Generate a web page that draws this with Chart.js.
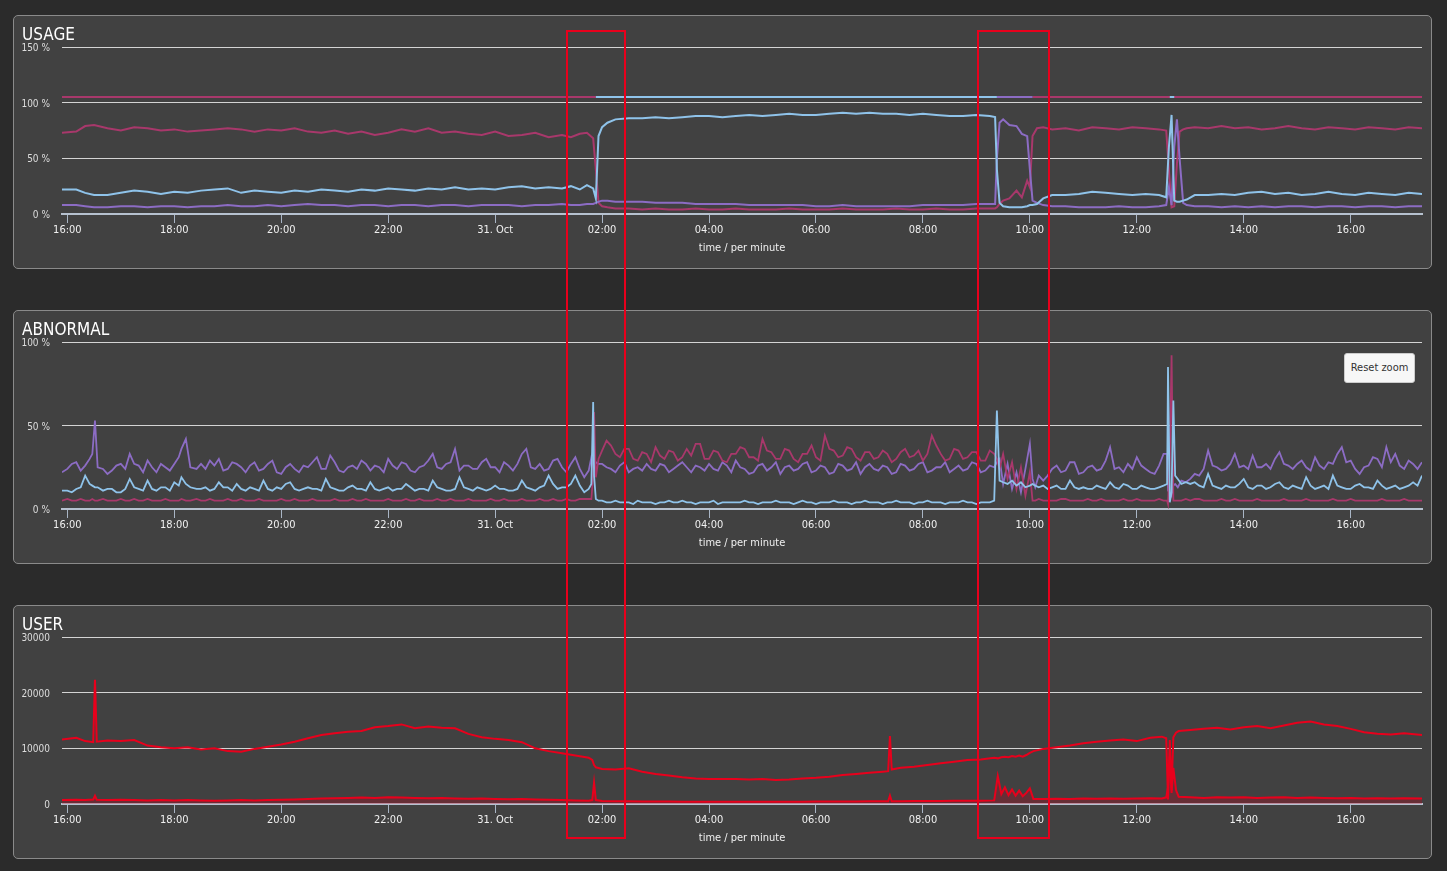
<!DOCTYPE html>
<html>
<head>
<meta charset="utf-8">
<title>Usage / Abnormal / User</title>
<script src="https://cdn.jsdelivr.net/npm/chart.js@4.4.1/dist/chart.umd.min.js"></script>
<style>
  html, body { margin: 0; padding: 0; width: 1447px; height: 871px; overflow: hidden; background: #2b2b2b;
    font-family: 'DejaVu Sans Condensed', 'Liberation Sans Narrow', sans-serif; }
  .panel { position: absolute; left: 13px; width: 1419px; height: 254px; box-sizing: border-box;
    border: 1px solid #8a8a8a; border-radius: 5px; background: #414141; }
  .panel .box { position: absolute; left: 0; top: 0; right: 0; bottom: 0; }
  .panel h2 { position: absolute; left: 8px; top: 8px; margin: 0; font-weight: normal; font-size: 17px;
    line-height: 20px; color: #fff; z-index: 2; }
  .reset { position: absolute; left: 1344px; top: 353px; width: 71px; height: 30px; box-sizing: border-box;
    background: #f7f7f7; border: 1px solid #cccccc; border-radius: 3px; color: #333; font-size: 11px;
    line-height: 28px; text-align: center; z-index: 3; }
  .mark { position: absolute; top: 30px; height: 809px; box-sizing: border-box; border: 2px solid #e8001c;
    z-index: 5; pointer-events: none; }
</style>
</head>
<body>

<div class="panel" style="top:15px"><h2>USAGE</h2><div class="box"><canvas id="usage"></canvas></div></div>
<div class="panel" style="top:310px"><h2>ABNORMAL</h2><div class="box"><canvas id="abnormal"></canvas></div></div>
<div class="panel" style="top:605px"><h2>USER</h2><div class="box"><canvas id="user"></canvas></div></div>
<div class="reset">Reset zoom</div>
<div class="mark" style="left:566px; width:60px"></div>
<div class="mark" style="left:977px; width:73px"></div>

<script>
// x values are minutes after 16:00 on 30 Oct
const tickMinutes = [0, 120, 240, 360, 480, 600, 720, 840, 960, 1080, 1200, 1320, 1440];
const tickLabels = ['16:00', '18:00', '20:00', '22:00', '31. Oct', '02:00', '04:00', '06:00', '08:00', '10:00', '12:00', '14:00', '16:00'];

// USAGE (%)
const usageTimes = [-6, 10, 20, 30, 45, 60, 75, 90, 105, 120, 135, 150, 165, 180, 195, 210, 225, 240, 255, 270,
  285, 300, 315, 330, 345, 360, 375, 390, 405, 420, 435, 450, 465, 480, 495, 510, 525, 540, 555,
  565, 575, 583, 590, 593, 596, 600, 606, 615,
  630, 645, 660, 675, 690, 705, 720, 735, 750, 765, 780, 795, 810, 825, 840, 855, 870, 885, 900, 915,
  930, 945, 960, 975, 990, 1005, 1020, 1035,
  1041, 1043, 1046, 1050, 1057, 1065, 1071, 1077, 1080, 1083, 1088, 1095, 1105,
  1120, 1135, 1150, 1165, 1180, 1195, 1210, 1225,
  1233, 1236, 1239, 1242, 1245, 1248, 1252, 1256,
  1265, 1280, 1295, 1310, 1325, 1340, 1355, 1370, 1385, 1400, 1415, 1430, 1445, 1460, 1475, 1490, 1505, 1520];
const usageMagenta = [73, 74, 79, 80, 77, 75, 78, 77, 75, 76, 74, 75, 76, 77, 76, 74, 76, 75, 77, 74,
  73, 75, 72, 74, 71, 73, 76, 74, 77, 73, 74, 72, 71, 74, 70, 71, 73, 69, 71,
  69, 72, 73, 68, 40, 10, 7, 6, 5,
  5, 4, 5, 4, 4, 5, 4, 4, 5, 4, 4, 4, 5, 4, 4, 4, 5, 4, 4, 4,
  5, 4, 4, 5, 4, 4, 5, 5,
  5, 6, 9, 12, 14, 21, 15, 30, 24, 70, 77, 78, 76,
  77, 75, 78, 77, 76, 78, 77, 76,
  75, 40, 6, 7, 45, 74, 76, 77,
  78, 77, 79, 77, 78, 76, 77, 79, 77, 76, 78, 77, 76, 78, 77, 76, 78, 77];
const usageBlue = [22, 22, 19, 17, 17, 19, 21, 20, 18, 20, 19, 21, 22, 23, 19, 21, 20, 19, 21, 20,
  22, 21, 20, 22, 21, 23, 22, 21, 23, 22, 24, 22, 23, 22, 24, 25, 23, 24, 23,
  25, 22, 26, 23, 14, 70, 78, 82, 85,
  86, 86, 87, 86, 87, 88, 88, 87, 88, 89, 88, 89, 90, 89, 89, 90, 91, 90, 91, 90,
  90, 89, 90, 89, 88, 88, 89, 88,
  87, 40, 10, 7, 6, 6, 6, 7, 8, 8, 9, 14, 17,
  17, 18, 20, 19, 18, 17, 18, 17,
  15, 60, 89, 12, 11, 11, 12, 13,
  17, 17, 18, 17, 19, 20, 18, 19, 17, 18, 20, 18, 17, 19, 18, 17, 19, 18];
const usagePurple = [8, 8, 7, 6, 6, 7, 7, 6, 7, 7, 6, 7, 7, 8, 7, 7, 8, 7, 8, 9,
  8, 8, 7, 8, 8, 7, 8, 8, 7, 8, 8, 7, 8, 8, 8, 7, 8, 8, 9,
  8, 8, 9, 9, 10, 11, 12, 12, 11,
  11, 11, 10, 10, 10, 9, 9, 9, 9, 8, 8, 8, 8, 8, 7, 7, 8, 7, 7, 7,
  7, 7, 8, 8, 8, 8, 9, 9,
  9, 50, 82, 85, 80, 79, 72, 70, 40, 12, 10, 8, 7,
  7, 6, 6, 6, 7, 6, 6, 7,
  8, 24, 8, 60, 85, 50, 10, 8,
  7, 7, 6, 7, 6, 7, 6, 7, 7, 6, 7, 7, 6, 7, 7, 6, 7, 7];
// the flat 105 % line, coloured by the series holding it
const topLevel = 105;
const topMagentaSpans = [[-6, 593], [1083, 1520]];
const topBlueSpans = [[593, 1043], [1237, 1242]];
const topPurpleSpans = [[1043, 1083]];

// ABNORMAL (%)
const abnTimes = [
  -6, 0, 5, 10, 15, 20, 25, 28, 31, 34,
  40, 45, 50, 55, 60, 65, 70, 75, 80, 85,
  90, 95, 100, 105, 110, 115, 120, 125, 128, 133,
  138, 145,
  150, 155, 160, 165, 170, 175, 180, 185, 190, 195,
  200, 205, 210, 215, 220, 225, 230, 235, 240, 245,
  250, 255, 260, 265, 270, 275, 280, 285, 290, 295,
  300, 305, 310, 315, 320, 325, 330, 335, 340, 345,
  350, 355, 360, 365, 370, 375, 380, 385, 390, 395,
  400, 405, 410, 415, 420, 425, 430, 435, 440, 445,
  450, 455, 460, 465, 470, 475, 480, 485, 490, 495,
  500, 505, 510, 515, 520, 525, 530, 535, 540, 545,
  550, 555, 560, 565, 570, 575, 580, 585,
  588, 590, 591, 593, 596,
  600, 605, 610, 615, 620, 625, 630, 635, 640, 645,
  650, 655, 660, 665, 670, 675, 680, 685, 690, 695,
  700, 705, 710, 715, 720, 725, 730, 735, 740, 745,
  750, 755, 760, 765, 770, 775, 780, 785, 790, 795,
  800, 805, 810, 815, 820, 825, 830, 835, 840, 845,
  850, 855, 860, 865, 870, 875, 880, 885, 890, 895,
  900, 905, 910, 915, 920, 925, 930, 935, 940, 945,
  950, 955, 960, 965, 970, 975, 980, 985, 990, 995,
  1000, 1005, 1010, 1015, 1020, 1025, 1030, 1035, 1040,
  1043, 1046, 1050, 1055, 1060, 1065, 1070, 1075, 1080, 1083, 1086, 1090, 1095,
  1100, 1105, 1110, 1115, 1120, 1125, 1130, 1135, 1140, 1145,
  1150, 1155, 1160, 1165, 1170, 1175, 1180, 1185, 1190, 1195,
  1200, 1205, 1210, 1215, 1220, 1225, 1230,
  1234, 1235, 1237, 1239, 1241, 1243, 1246, 1250, 1255,
  1260, 1265, 1270, 1275, 1280, 1285, 1290, 1295, 1300, 1305,
  1310, 1315, 1320, 1325, 1330, 1335, 1340, 1345, 1350, 1355,
  1360, 1365, 1370, 1375, 1380, 1385, 1390, 1395, 1400, 1405,
  1410, 1415, 1420, 1425, 1430, 1435, 1440, 1445, 1450, 1455,
  1460, 1465, 1470, 1475, 1480, 1485, 1490, 1495, 1500, 1505,
  1510, 1515, 1520];
const abnPurple = [
  22, 24, 27, 28, 23, 26, 30, 33, 53, 25,
  24, 21, 23, 26, 27, 24, 33, 27, 26, 22,
  29, 25, 22, 27, 25, 23, 27, 31, 36, 42,
  25, 24,
  27, 24, 29, 26, 30, 23, 24, 28, 27, 25,
  22, 26, 28, 23, 24, 27, 29, 22, 21, 25,
  27, 24, 22, 26, 25, 28, 31, 24, 24, 32,
  28, 23, 22, 25, 26, 24, 29, 27, 23, 26,
  25, 22, 30, 26, 24, 28, 27, 23, 22, 25,
  26, 29, 33, 25, 24, 27, 28, 36, 23, 26,
  26, 24, 24, 28, 30, 25, 25, 22, 28, 26,
  23, 27, 33, 36, 25, 24, 27, 23, 24, 29,
  30, 25, 22, 27, 31, 24, 19, 23,
  31, 26, 24, 28, 27,
  27, 25, 24, 22, 26, 28, 22, 24, 25, 23,
  27, 24, 23, 27, 26, 22, 24, 26, 28, 25,
  22, 26, 25, 23, 27, 24, 23, 28, 26, 22,
  29, 25, 24, 21, 22, 26, 27, 23, 25, 28,
  21, 25, 26, 23, 24, 27, 28, 22, 23, 26,
  25, 21, 22, 27, 26, 23, 24, 28, 21, 25,
  27, 24, 23, 26, 25, 21, 22, 27, 26, 23,
  24, 27, 28, 22, 23, 25, 25, 28, 22, 24,
  26, 23, 24, 28, 27, 22, 23, 26, 25,
  28, 30, 15, 27, 12, 22, 10, 24, 39, 18, 13, 20, 17,
  20, 24, 26, 22, 23, 28, 28, 21, 22, 25,
  26, 23, 24, 29, 37, 24, 25, 22, 27, 24,
  31, 26, 24, 22, 21, 26, 33,
  33, 11, 10, 8, 14, 15, 13, 17, 16,
  18, 21, 20, 24, 35, 26, 25, 23, 24, 27,
  33, 25, 26, 24, 32, 25, 25, 27, 24, 30,
  34, 27, 26, 24, 27, 29, 25, 23, 31, 26,
  24, 28, 27, 33, 37, 28, 29, 24, 21, 25,
  26, 31, 30, 25, 37, 28, 33, 26, 24, 29,
  27, 24, 28];
const abnBlue = [
  11, 11, 10, 12, 13, 20, 15, 14, 13, 13,
  11, 12, 12, 10, 10, 12, 18, 13, 12, 11,
  17, 12, 11, 13, 13, 11, 16, 14, 19, 15,
  13, 12,
  12, 13, 11, 12, 16, 13, 13, 11, 15, 12,
  11, 13, 12, 11, 17, 12, 11, 13, 12, 15,
  16, 12, 11, 12, 13, 12, 12, 11, 18, 13,
  12, 11, 11, 13, 14, 12, 12, 11, 16, 12,
  11, 12, 13, 11, 12, 12, 15, 13, 11, 12,
  12, 11, 17, 13, 12, 11, 11, 12, 19, 13,
  12, 11, 13, 12, 11, 12, 14, 12, 12, 11,
  11, 12, 17, 13, 12, 11, 13, 14, 20, 15,
  12, 13, 13, 15, 20, 14, 10, 12,
  15, 64, 20, 6, 5,
  5, 4, 4, 5, 4, 4, 4, 3, 5, 4,
  4, 4, 3, 4, 4, 5, 4, 4, 5, 4,
  4, 3, 4, 4, 4, 5, 3, 4, 4, 4,
  4, 4, 5, 4, 4, 3, 4, 4, 4, 5,
  4, 4, 4, 3, 4, 5, 4, 4, 3, 4,
  4, 4, 5, 4, 4, 4, 3, 4, 4, 5,
  4, 4, 4, 3, 4, 4, 5, 4, 4, 4,
  3, 4, 4, 5, 4, 4, 4, 3, 4, 4,
  4, 5, 4, 4, 3, 4, 4, 4, 5,
  59, 17, 16, 15, 17, 14, 16, 13, 14, 15, 14, 13, 14,
  12, 13, 14, 12, 12, 17, 13, 12, 13, 12,
  12, 14, 13, 12, 16, 13, 12, 15, 14, 12,
  12, 14, 13, 12, 12, 13, 14,
  15, 85, 4, 10, 65, 20, 18, 15, 16,
  15, 16, 14, 13, 21, 14, 13, 12, 14, 13,
  13, 15, 18, 13, 12, 14, 14, 12, 13, 15,
  16, 13, 12, 14, 13, 12, 19, 14, 12, 13,
  14, 12, 20, 14, 13, 12, 12, 14, 15, 13,
  13, 12, 17, 14, 12, 13, 14, 12, 13, 14,
  16, 14, 20];
const abnMagenta = [
  5, 6, 5, 5, 6, 5, 5, 6, 5, 5,
  6, 5, 5, 5, 6, 5, 5, 6, 5, 5,
  6, 5, 5, 5, 6, 5, 5, 5, 6, 5,
  5, 6,
  5, 5, 6, 5, 5, 5, 6, 5, 5, 6,
  5, 5, 5, 6, 5, 5, 5, 5, 6, 5,
  5, 6, 5, 5, 5, 6, 5, 5, 5, 5,
  6, 5, 5, 5, 6, 5, 5, 6, 5, 5,
  5, 5, 6, 5, 5, 5, 6, 5, 5, 6,
  5, 5, 5, 6, 5, 5, 6, 5, 5, 5,
  6, 5, 5, 5, 5, 6, 5, 5, 6, 5,
  5, 5, 6, 5, 5, 5, 6, 5, 5, 6,
  5, 5, 6, 5, 5, 6, 6, 6,
  6, 20, 58, 19, 30,
  35, 41, 38, 33, 31, 36, 36, 30, 29, 34,
  33, 28, 37, 32, 30, 35, 34, 29, 31, 36,
  32, 39, 39, 30, 30, 35, 34, 29, 28, 33,
  33, 37, 36, 31, 31, 29, 42, 35, 34, 30,
  30, 36, 35, 30, 28, 33, 33, 38, 31, 29,
  44, 36, 35, 31, 32, 37, 36, 31, 29, 34,
  34, 30, 31, 35, 33, 28, 30, 34, 36, 31,
  32, 35, 29, 33, 44, 38, 33, 29, 30, 36,
  35, 30, 31, 34, 34, 29, 29, 35, 33,
  30, 24, 33, 18, 28, 12, 25, 8, 22, 5, 5, 6, 5,
  5, 5, 5, 6, 6, 5, 5, 5, 5, 6,
  5, 5, 6, 5, 5, 5, 5, 6, 5, 5,
  6, 5, 5, 5, 5, 6, 5,
  5, 3, 30, 92, 5, 5, 5, 5, 6,
  5, 6, 6, 5, 5, 5, 5, 6, 5, 5,
  6, 5, 5, 5, 5, 6, 5, 5, 5, 5,
  5, 6, 5, 5, 5, 5, 6, 5, 5, 5,
  5, 5, 6, 5, 5, 5, 6, 5, 5, 5,
  5, 5, 5, 6, 5, 5, 5, 5, 6, 5,
  5, 5, 5];

// USER (count)
const userTimes = [-6, 10, 20, 29, 31, 33, 45, 60, 75, 90, 105, 120, 135, 150, 165, 180, 195, 210, 225, 240,
  255, 270, 285, 300, 315, 330, 345, 360, 375, 390, 405, 420, 435, 450, 465, 480, 495, 510, 525, 540,
  555, 570, 585, 589, 591, 593, 600, 615, 630, 645, 660, 675, 690, 705, 720, 735, 750, 765, 780, 795,
  810, 825, 840, 855, 870, 885, 900, 915, 921, 923, 925, 935, 950, 965, 980, 995, 1010, 1025, 1040, 1044,
  1048, 1052, 1056, 1060, 1064, 1068, 1072, 1076, 1080, 1084, 1095, 1110, 1125, 1140, 1155, 1170, 1185, 1200, 1215, 1228,
  1233, 1235, 1237, 1239, 1241, 1244, 1247, 1260, 1275, 1290, 1305, 1320, 1335, 1350, 1365, 1380, 1395, 1410, 1425, 1440,
  1455, 1470, 1485, 1500, 1520];
const userUpper = [11600, 11900, 11300, 11100, 22300, 11200, 11400, 11300, 11500, 10500, 10200, 10000, 10200, 9800, 10000, 9500, 9400, 9900, 10300, 10700,
  11200, 11800, 12400, 12700, 13000, 13100, 13800, 14000, 14300, 13600, 13900, 13700, 13600, 12600, 12000, 11700, 11500, 11100, 10000, 9500,
  9100, 8700, 8300, 7900, 7000, 6600, 6300, 6200, 6400, 5800, 5400, 5100, 4800, 4600, 4500, 4500, 4500, 4400, 4500, 4300,
  4400, 4600, 4700, 4900, 5200, 5400, 5600, 5800, 5900, 12200, 6200, 6500, 6700, 7000, 7300, 7600, 7900, 8000, 8300, 8200,
  8400, 8500, 8400, 8600, 8500, 8700, 8500, 8800, 9200, 9500, 9900, 10200, 10500, 10900, 11200, 11400, 11600, 11300, 11900, 12100,
  11800, 800, 11500, 2500, 12000, 12800, 13100, 13300, 13500, 13700, 13400, 13800, 14000, 13600, 14100, 14600, 14800, 14300, 14000, 13500,
  12900, 12600, 12500, 12700, 12400];
const userLower = [700, 750, 700, 800, 1500, 750, 700, 750, 700, 650, 700, 650, 700, 650, 600, 650, 700, 650, 700, 750,
  800, 900, 1000, 1050, 1100, 1150, 1100, 1200, 1150, 1100, 1050, 1100, 1000, 950, 1000, 900, 850, 900, 800, 750,
  700, 650, 600, 700, 3800, 700, 550, 500, 500, 450, 450, 450, 400, 400, 400, 400, 400, 400, 400, 400,
  400, 400, 450, 450, 450, 450, 500, 500, 500, 1500, 500, 500, 550, 550, 550, 600, 600, 600, 650, 5000,
  1800, 3000, 1600, 2600, 1500, 2400, 1400, 2000, 2800, 900, 900, 950, 900, 1000, 950, 1000, 950, 1000, 1050, 1000,
  1200, 3000, 8600, 2000, 6500, 2500, 1300, 1200, 1100, 1200, 1150, 1200, 1100, 1150, 1200, 1100, 1150, 1100, 1050, 1100,
  1000, 1050, 1000, 1050, 1000];

const FONT = "'DejaVu Sans Condensed', 'Liberation Sans Narrow', sans-serif";
const MAGENTA = '#a8386b';
const BLUE = '#8fc3ea';
const PURPLE = '#8c6cc4';
const RED = '#e8001c';

Chart.defaults.font.family = FONT;

const pts = (times, vals) => times.map((t, i) => ({ x: t, y: vals[i] }));
const spanPts = spans => spans.flatMap(([a, b]) => [{ x: a, y: topLevel }, { x: b, y: topLevel }, { x: b, y: null }]);

function line(data, color, width) {
  return { data, borderColor: color, backgroundColor: color, borderWidth: width, pointRadius: 0, tension: 0, spanGaps: false };
}

function scales(yTicks, suffix) {
  return {
    x: {
      type: 'linear', min: -6, max: 1520,
      afterBuildTicks: s => { s.ticks = tickMinutes.map(v => ({ value: v })); },
      afterFit: s => { s.height = 54; },
      grid: { display: true, drawOnChartArea: false, drawTicks: true, tickLength: 9, tickColor: '#a9b5c5', tickWidth: 1 },
      border: { display: true, color: '#b6c1cf', width: 2 },
      ticks: {
        color: '#f0f0f0', font: { size: 11 }, padding: 1, maxRotation: 0, autoSkip: false,
        callback: v => tickLabels[tickMinutes.indexOf(v)] ?? ''
      },
      title: { display: true, text: 'time / per minute', color: '#f0f0f0', font: { size: 11 }, padding: { top: 0, bottom: 13 } }
    },
    y: {
      min: 0, max: yTicks[yTicks.length - 1],
      afterBuildTicks: s => { s.ticks = yTicks.map(v => ({ value: v })); },
      afterFit: s => { s.width = 48; },
      grid: { color: '#d4d4d4', lineWidth: 1, drawTicks: false },
      border: { display: false },
      ticks: { color: '#dddddd', font: { size: 10 }, padding: 12, labelOffset: 1.5, callback: v => v + suffix }
    }
  };
}

function makeChart(id, datasets, yTicks, suffix) {
  return new Chart(document.getElementById(id), {
    type: 'line',
    data: { datasets },
    options: {
      responsive: true,
      maintainAspectRatio: false,
      animation: false,
      events: [],
      layout: { padding: { top: 31, right: 9, left: 0, bottom: 0 } },
      plugins: { legend: { display: false }, tooltip: { enabled: false } },
      scales: scales(yTicks, suffix)
    }
  });
}

makeChart('usage', [
  line(spanPts(topBlueSpans), BLUE, 2),
  line(spanPts(topPurpleSpans), PURPLE, 2),
  line(spanPts(topMagentaSpans), MAGENTA, 2),
  line(pts(usageTimes, usageBlue), BLUE, 2),
  line(pts(usageTimes, usagePurple), PURPLE, 2),
  line(pts(usageTimes, usageMagenta), MAGENTA, 2)
], [0, 50, 100, 150], ' %');

makeChart('abnormal', [
  line(pts(abnTimes, abnBlue), BLUE, 1.8),
  line(pts(abnTimes, abnMagenta), MAGENTA, 1.8),
  line(pts(abnTimes, abnPurple), PURPLE, 1.8)
], [0, 50, 100], ' %');

const lower = line(pts(userTimes, userLower), RED, 2);
lower.fill = 'origin';
lower.backgroundColor = 'rgba(200, 0, 30, 0.28)';
makeChart('user', [
  line(pts(userTimes, userUpper), RED, 2),
  lower
], [0, 10000, 20000, 30000], '');
</script>
</body>
</html>
